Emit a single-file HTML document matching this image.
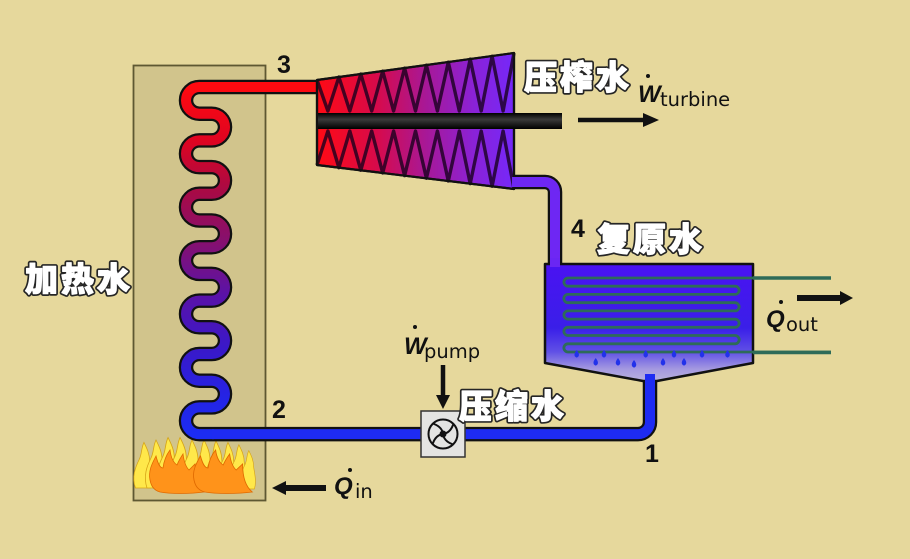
<!DOCTYPE html>
<html><head><meta charset="utf-8"><style>
html,body{margin:0;padding:0;background:#E6D89C;}
svg{display:block;}
.cno{font-family:"Liberation Sans","Noto Sans CJK SC",sans-serif;font-weight:900;font-size:33px;letter-spacing:3px;fill:#262626;stroke:#262626;stroke-width:4.6;stroke-linejoin:round;}
.cn{font-family:"Liberation Sans","Noto Sans CJK SC",sans-serif;font-weight:900;font-size:33px;letter-spacing:3px;fill:#fff;stroke:#fff;stroke-width:1.2;stroke-linejoin:round;}
.num{font-family:"Liberation Sans",sans-serif;font-weight:700;font-size:25px;fill:#111;}
.big{font-family:"Liberation Sans",sans-serif;font-weight:700;font-style:italic;font-size:24px;fill:#111;}
.sub{font-family:"DejaVu Sans",sans-serif;font-size:19.5px;fill:#111;}
</style></head><body>
<svg width="910" height="559" viewBox="0 0 910 559" xmlns="http://www.w3.org/2000/svg">
<defs>
<linearGradient id="coil" gradientUnits="userSpaceOnUse" x1="0" y1="87" x2="0" y2="434">
<stop offset="0" stop-color="#FF0A10"/><stop offset="0.15" stop-color="#E00420"/><stop offset="0.3" stop-color="#A80A45"/><stop offset="0.45" stop-color="#851070"/><stop offset="0.6" stop-color="#5A12A8"/><stop offset="0.75" stop-color="#3A18C8"/><stop offset="0.9" stop-color="#2424E6"/><stop offset="1" stop-color="#1C2CF2"/>
</linearGradient>
<linearGradient id="turb" gradientUnits="userSpaceOnUse" x1="317" y1="0" x2="514" y2="0">
<stop offset="0" stop-color="#FF0A14"/><stop offset="0.3" stop-color="#D80A4A"/><stop offset="0.55" stop-color="#A81896"/><stop offset="0.8" stop-color="#8A22D8"/><stop offset="1" stop-color="#7528FA"/>
</linearGradient>
<linearGradient id="tank" gradientUnits="userSpaceOnUse" x1="0" y1="264" x2="0" y2="381">
<stop offset="0" stop-color="#4A12F2"/><stop offset="0.55" stop-color="#3A1FE8"/><stop offset="0.75" stop-color="#6050E6"/><stop offset="0.9" stop-color="#A59AE0"/><stop offset="1" stop-color="#B8B0DE"/>
</linearGradient>
<linearGradient id="shaft" x1="0" y1="0" x2="0" y2="1">
<stop offset="0" stop-color="#000"/><stop offset="0.4" stop-color="#3a3a3a"/><stop offset="1" stop-color="#000"/>
</linearGradient>
<path id="fl" d="M -8,0 C -12,-12 -8,-22 -4,-30 C -1,-36 -2,-42 1,-48 C 4,-42 7,-36 7,-28 C 8,-20 11,-10 8,0 Z"/>
<path id="oc" d="M 150,480 C 148,470 153,462 156,456 C 158,464 160,468 163,468 C 164,460 167,454 170,450 C 171,458 174,463 177,465 C 179,460 181,457 183,454 C 184,462 186,467 189,470 C 191,468 193,466 195,464 C 195,476 197,486 204,492 C 190,494 170,494 160,492 C 153,490 151,485 150,480 Z"/>
</defs>

<!-- boiler -->
<rect x="133.5" y="65.5" width="132" height="435" fill="#D1C48C" stroke="#5E5832" stroke-width="1.8"/>

<!-- flames -->
<g fill="#FFE84A" stroke="#D6A416" stroke-width="0.8">
<use href="#fl" transform="translate(143,488) scale(0.95)"/>
<use href="#fl" transform="translate(155,488) scale(1.0)"/>
<use href="#fl" transform="translate(167,488) scale(1.05)"/>
<use href="#fl" transform="translate(179,488) scale(1.05)"/>
<use href="#fl" transform="translate(191,488) scale(1.0)"/>
<use href="#fl" transform="translate(203,488) scale(1.0)"/>
<use href="#fl" transform="translate(215,488) scale(0.98)"/>
<use href="#fl" transform="translate(227,488) scale(0.95)"/>
<use href="#fl" transform="translate(238,488) scale(0.9)"/>
<use href="#fl" transform="translate(248,489) scale(0.8)"/>
</g>
<g fill="#FF931A" stroke="#E06A00" stroke-width="0.8">
<use href="#oc"/>
<use href="#oc" transform="translate(48,0) translate(200,480) scale(1.08,1) translate(-200,-480)"/>
</g>

<!-- pipe outlines -->
<g fill="none" stroke="#111" stroke-width="14.5" stroke-linejoin="round">
<path d="M 320 87 H 199.35 A 13.35 13.35 0 0 0 199.35 113.7 H 211.65 A 13.35 13.35 0 0 1 211.65 140.4 H 199.35 A 13.35 13.35 0 0 0 199.35 167.1 H 211.65 A 13.35 13.35 0 0 1 211.65 193.8 H 199.35 A 13.35 13.35 0 0 0 199.35 220.5 H 211.65 A 13.35 13.35 0 0 1 211.65 247.2 H 199.35 A 13.35 13.35 0 0 0 199.35 273.9 H 211.65 A 13.35 13.35 0 0 1 211.65 300.6 H 199.35 A 13.35 13.35 0 0 0 199.35 327.3 H 211.65 A 13.35 13.35 0 0 1 211.65 354 H 199.35 A 13.35 13.35 0 0 0 199.35 380.7 H 211.65 A 13.35 13.35 0 0 1 211.65 407.4 H 199.35 A 13.35 13.35 0 0 0 199.35 434.1 H 638 A 12 12 0 0 0 650 422 V 378"/>
<path d="M 512 182 H 545 A 10 10 0 0 1 555 192 V 266"/>
</g>
<!-- pipe fills -->
<g fill="none" stroke-width="10" stroke-linejoin="round">
<path stroke="url(#coil)" d="M 320 87 H 199.35 A 13.35 13.35 0 0 0 199.35 113.7 H 211.65 A 13.35 13.35 0 0 1 211.65 140.4 H 199.35 A 13.35 13.35 0 0 0 199.35 167.1 H 211.65 A 13.35 13.35 0 0 1 211.65 193.8 H 199.35 A 13.35 13.35 0 0 0 199.35 220.5 H 211.65 A 13.35 13.35 0 0 1 211.65 247.2 H 199.35 A 13.35 13.35 0 0 0 199.35 273.9 H 211.65 A 13.35 13.35 0 0 1 211.65 300.6 H 199.35 A 13.35 13.35 0 0 0 199.35 327.3 H 211.65 A 13.35 13.35 0 0 1 211.65 354 H 199.35 A 13.35 13.35 0 0 0 199.35 380.7 H 211.65 A 13.35 13.35 0 0 1 211.65 407.4 H 199.35 A 13.35 13.35 0 0 0 199.35 434.1 H 214"/>
<path stroke="#1E2BF2" d="M 212 434.1 H 638 A 12 12 0 0 0 650 422 V 376"/>
</g>

<!-- turbine -->
<polygon points="317,80 514,53 514,189 317,165" fill="url(#turb)" stroke="#111" stroke-width="2.2" stroke-linejoin="round"/>
<g fill="none" stroke="rgba(25,0,30,0.8)" stroke-width="3.4" stroke-linejoin="round">
<polyline points="317,80 327.9,111 338.9,77 349.8,111 360.8,74 371.7,111 382.7,71.1 393.6,111 404.6,68.1 415.5,111 426.4,65.1 437.4,111 448.3,62.1 459.3,111 470.2,59.1 481.2,111 492.1,56.2 503.1,111 514,53"/>
<polyline points="317,165 327.9,131 338.9,167.7 349.8,131 360.8,170.3 371.7,131 382.7,173 393.6,131 404.6,175.7 415.5,131 426.4,178.3 437.4,131 448.3,181 459.3,131 470.2,183.7 481.2,131 492.1,186.3 503.1,131 514,189"/>
</g>
<polygon points="317,80 514,53 514,189 317,165" fill="none" stroke="#111" stroke-width="2.2" stroke-linejoin="round"/>
<rect x="318" y="113" width="244" height="16" fill="url(#shaft)"/>

<!-- exhaust pipe fill -->
<path d="M 512 182 H 545 A 10 10 0 0 1 555 192 V 262" fill="none" stroke="#6E27F3" stroke-width="10"/>

<!-- condenser tank -->
<path d="M 545 264 H 753 V 363 L 657 381 H 643 L 545 363 Z" fill="url(#tank)" stroke="#111" stroke-width="2.5" stroke-linejoin="round"/>
<rect x="550" y="258" width="10" height="9" fill="#6A26F3"/>
<rect x="645" y="374" width="10" height="10" fill="#1E2BF2"/>

<!-- condenser coil -->
<path d="M 831 278 H 568 A 4.1 4.1 0 0 0 568 286.2 H 735 A 4.1 4.1 0 0 1 735 294.4 H 568 A 4.15 4.15 0 0 0 568 302.7 H 735 A 4.1 4.1 0 0 1 735 310.9 H 568 A 4.1 4.1 0 0 0 568 319.1 H 735 A 4.1 4.1 0 0 1 735 327.3 H 568 A 4.1 4.1 0 0 0 568 335.5 H 735 A 4.15 4.15 0 0 1 735 343.8 H 568 A 4.1 4.1 0 0 0 568 352 H 831" fill="none" stroke="#2E6B58" stroke-width="2.8"/>
<line x1="753" y1="278" x2="831" y2="278" stroke="#2E6B58" stroke-width="3.5"/>
<line x1="753" y1="352.5" x2="831" y2="352.5" stroke="#2E6B58" stroke-width="3.5"/>

<!-- droplets -->
<g fill="#2232EA">
<path d="M576.7,350 c3,3.6 3,6.6 0,7.6 c-3,-1 -3,-4 0,-7.6z"/>
<path d="M604,350 c3,3.6 3,6.6 0,7.6 c-3,-1 -3,-4 0,-7.6z"/>
<path d="M645.7,350 c3,3.6 3,6.6 0,7.6 c-3,-1 -3,-4 0,-7.6z"/>
<path d="M674,350 c3,3.6 3,6.6 0,7.6 c-3,-1 -3,-4 0,-7.6z"/>
<path d="M702,350 c3,3.6 3,6.6 0,7.6 c-3,-1 -3,-4 0,-7.6z"/>
<path d="M727.5,350 c3,3.6 3,6.6 0,7.6 c-3,-1 -3,-4 0,-7.6z"/>
<path d="M595.7,358 c3,3.6 3,6.6 0,7.6 c-3,-1 -3,-4 0,-7.6z"/>
<path d="M618,358 c3,3.6 3,6.6 0,7.6 c-3,-1 -3,-4 0,-7.6z"/>
<path d="M634,360 c3,3.6 3,6.6 0,7.6 c-3,-1 -3,-4 0,-7.6z"/>
<path d="M663,358 c3,3.6 3,6.6 0,7.6 c-3,-1 -3,-4 0,-7.6z"/>
<path d="M684,358 c3,3.6 3,6.6 0,7.6 c-3,-1 -3,-4 0,-7.6z"/>
</g>

<!-- pump -->
<rect x="421" y="411" width="44" height="46" fill="#E4E4E2" stroke="#333" stroke-width="1.5"/>
<circle cx="443" cy="434" r="14.5" fill="none" stroke="#111" stroke-width="2"/>
<g fill="none" stroke="#111" stroke-width="2" stroke-linecap="round">
<path d="M443,434 q 7,-1 10,-9"/>
<path d="M443,434 q 1,7 9,10"/>
<path d="M443,434 q -7,1 -10,9"/>
<path d="M443,434 q -1,-7 -9,-10"/>
</g>
<circle cx="443" cy="434" r="3.5" fill="#111"/>

<!-- arrows -->
<line x1="578" y1="120" x2="648" y2="120" stroke="#111" stroke-width="4.5"/>
<polygon points="643,113 659,120 643,127" fill="#111"/>
<line x1="797" y1="298" x2="843" y2="298" stroke="#111" stroke-width="6"/>
<polygon points="840,291 853,298 840,305" fill="#111"/>
<line x1="326" y1="488" x2="283" y2="488" stroke="#111" stroke-width="6"/>
<polygon points="286,481 272,488 286,495" fill="#111"/>
<line x1="443" y1="365" x2="443" y2="398" stroke="#111" stroke-width="4.5"/>
<polygon points="436,395 443,409 450,395" fill="#111"/>

<!-- labels -->
<text class="cno" x="25" y="291">加热水</text><text class="cn" x="25" y="291">加热水</text>
<text class="cno" x="524" y="89">压榨水</text><text class="cn" x="524" y="89">压榨水</text>
<text class="cno" x="597" y="251">复原水</text><text class="cn" x="597" y="251">复原水</text>
<text class="cno" x="459" y="418">压缩水</text><text class="cn" x="459" y="418">压缩水</text>

<text class="num" x="277" y="73">3</text>
<text class="num" x="272" y="418">2</text>
<text class="num" x="571" y="237">4</text>
<text class="num" x="645" y="462">1</text>

<text class="big" x="638" y="102">W</text><circle cx="648" cy="76" r="2" fill="#111"/>
<text class="sub" x="660" y="106">turbine</text>
<text class="big" x="404" y="354">W</text><circle cx="415" cy="327" r="2" fill="#111"/>
<text class="sub" x="424" y="358">pump</text>
<text class="big" x="766" y="327">Q</text><circle cx="781" cy="302" r="2" fill="#111"/>
<text class="sub" x="786" y="331">out</text>
<text class="big" x="334" y="494">Q</text><circle cx="350" cy="470" r="2" fill="#111"/>
<text class="sub" x="355" y="498">in</text>
</svg>
</body></html>
